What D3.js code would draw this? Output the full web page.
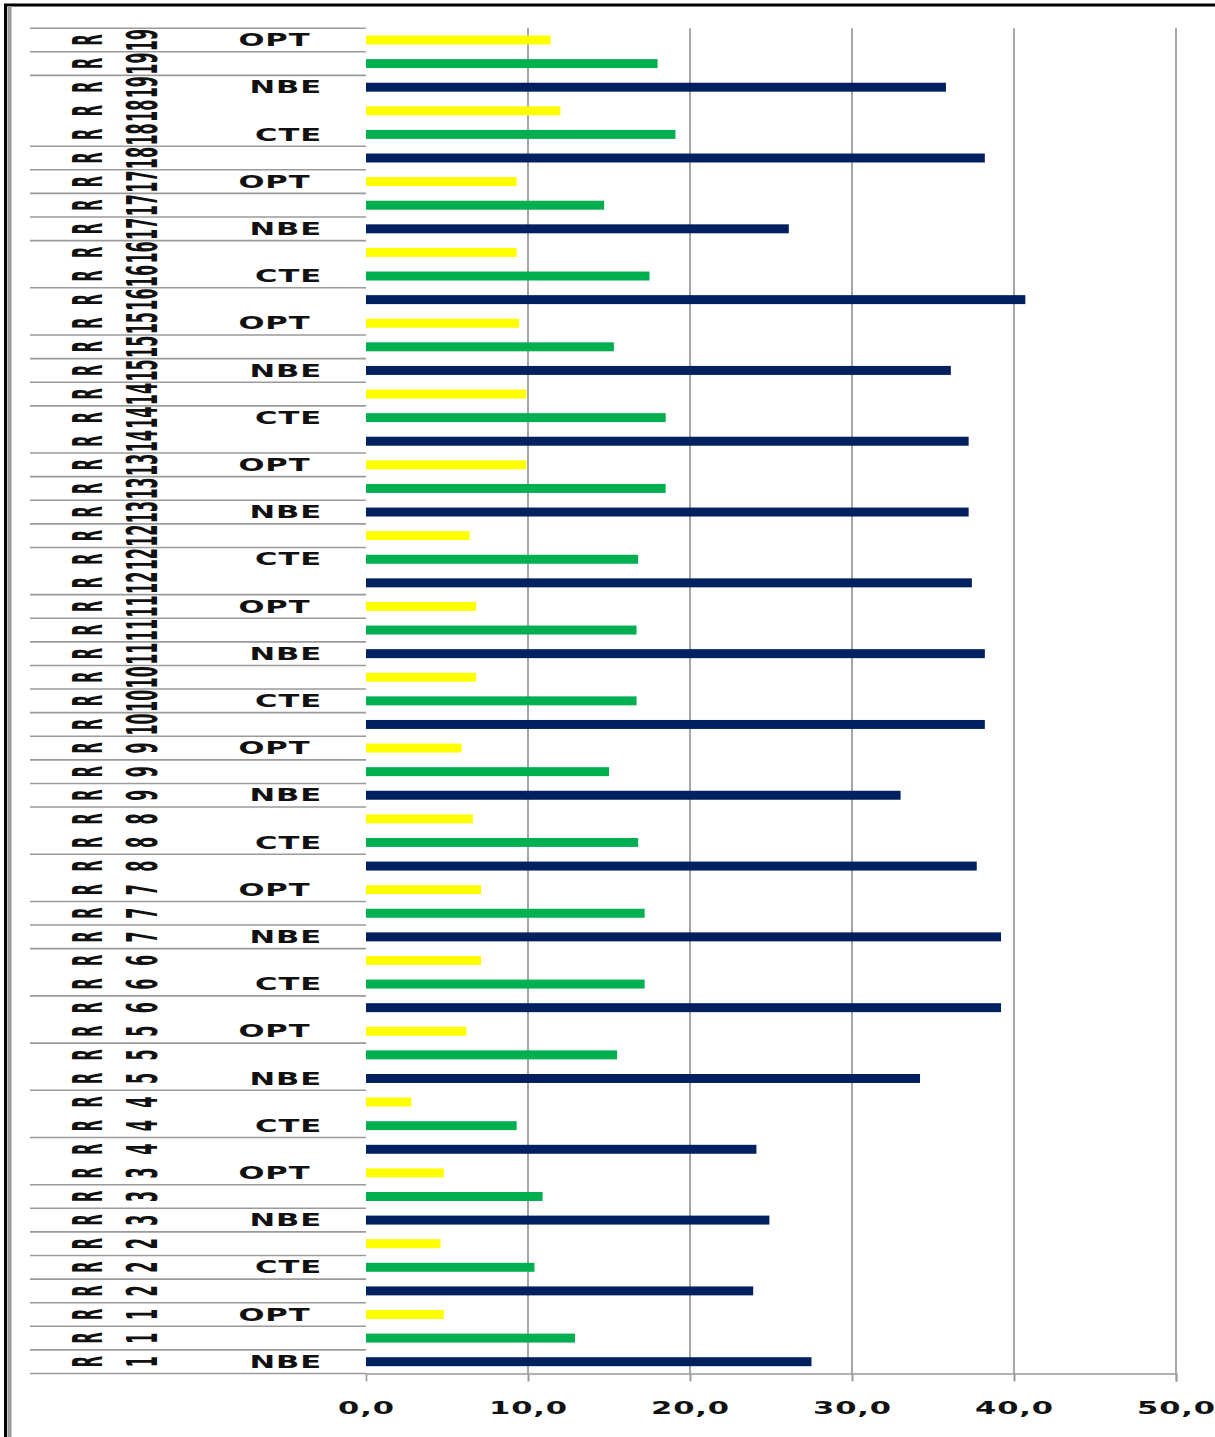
<!DOCTYPE html>
<html>
<head>
<meta charset="utf-8">
<script src="https://cdn.jsdelivr.net/npm/d3@7"></script>
<style>
  html, body { margin: 0; padding: 0; background: #fff; }
  svg { display: block; }
  text { font-family: "DejaVu Sans", Verdana, sans-serif; font-weight: bold; fill: #111; }
</style>
</head>
<body>
<svg id="chart" width="1215" height="1437"></svg>
<script>
// Regions R1..R19, each with three indicators
const groups = d3.range(1, 20);
const measures = ["NBE", "CTE", "OPT"];
const measureLabels = ["NBE", "CTE", "OPT "];

const nbe = [27.5, 23.9, 24.9, 24.1, 34.2, 39.2, 39.2, 37.7, 33.0, 38.2,
             38.2, 37.4, 37.2, 37.2, 36.1, 40.7, 26.1, 38.2, 35.8];
const cte = [12.9, 10.4, 10.9, 9.3, 15.5, 17.2, 17.2, 16.8, 15.0, 16.7,
             16.7, 16.8, 18.5, 18.5, 15.3, 17.5, 14.7, 19.1, 18.0];
const opt = [4.8, 4.6, 4.8, 2.8, 6.2, 7.1, 7.1, 6.6, 5.9, 6.8,
             6.8, 6.4, 9.9, 9.9, 9.45, 9.3, 9.3, 12.0, 11.4];

const xTicks = [0, 10, 20, 30, 40, 50];
const xTickLabels = ["0,0", "10,0", "20,0", "30,0", "40,0", "50,0"];

// category boundaries (between row b and b+1) that carry no separator rule
const ruleGaps = [8, 10, 12, 14, 16, 20, 22, 33, 39, 44, 46, 52, 53];

const colors = { NBE: "#002060", CTE: "#00B050", OPT: "#FFFF00" };
const seriesValues = { NBE: nbe, CTE: cte, OPT: opt };

// one row per (region, indicator), bottom row first
const rows = [];
groups.forEach((g, gi) => {
  measures.forEach((m, mi) => {
    rows.push({ id: rows.length, group: g, measure: m, label: measureLabels[mi],
                value: seriesValues[m][gi] });
  });
});

const svg = d3.select("#chart");

const plotTop = 28.2, plotBottom = 1373.5;
const x = d3.scaleLinear().domain([0, 50]).range([366, 1176]);
const y = d3.scaleBand()
  .domain(rows.map(d => d.id).reverse())
  .range([plotTop, plotBottom])
  .paddingInner(0.62)
  .paddingOuter(0.31);
const step = y.step();
const rowCenter = id => y(id) + y.bandwidth() / 2;

// horizontally widened lettering
const textSx = 1.8, textFs = 17, textLs = 0.5;

// frame
svg.append("line").attr("x1", 4).attr("x2", 1215).attr("y1", 5).attr("y2", 5)
  .attr("stroke", "#000").attr("stroke-width", 3);
svg.append("line").attr("x1", 5.5).attr("x2", 5.5).attr("y1", 4).attr("y2", 1437)
  .attr("stroke", "#000").attr("stroke-width", 3);
svg.append("line").attr("x1", 9.5).attr("x2", 9.5).attr("y1", 6).attr("y2", 1437)
  .attr("stroke", "#9a9a9a").attr("stroke-width", 4);

// vertical gridlines
svg.append("g").selectAll("line")
  .data(xTicks.filter(t => t > 0))
  .join("line")
  .attr("x1", d => x(d)).attr("x2", d => x(d))
  .attr("y1", plotTop).attr("y2", plotBottom)
  .attr("stroke", "#a6a6a6").attr("stroke-width", 2);

// category separator rules
const boundaries = d3.range(-1, rows.length).filter(b => !ruleGaps.includes(b));
svg.append("g").selectAll("line")
  .data(boundaries)
  .join("line")
  .attr("x1", 30).attr("x2", x(0))
  .attr("y1", b => plotBottom - (b + 1) * step)
  .attr("y2", b => plotBottom - (b + 1) * step)
  .attr("stroke", "#9a9a9a").attr("stroke-width", 1.6);

// value axis
const xAxis = d3.axisBottom(x).tickValues(xTicks).tickSize(8).tickFormat((d, i) => xTickLabels[i]);
const axisG = svg.append("g").attr("transform", `translate(0,${plotBottom})`).call(xAxis);
axisG.select(".domain").attr("stroke", "#9a9a9a").attr("stroke-width", 1.6);
axisG.selectAll(".tick line").attr("stroke", "#9a9a9a").attr("stroke-width", 2)
  .filter(d => d === 0).remove();
axisG.selectAll(".tick text").remove();
axisG.selectAll(".tick").append("g")
  .attr("transform", `translate(0,34) scale(${textSx},1)`)
  .append("text")
  .attr("text-anchor", "middle")
  .attr("font-size", textFs)
  .attr("letter-spacing", textLs)
  .attr("dy", "0.36em")
  .text((d, i) => xTickLabels[i]);

// bars
svg.append("g").selectAll("rect")
  .data(rows)
  .join("rect")
  .attr("x", x(0))
  .attr("y", d => y(d.id))
  .attr("width", d => x(d.value) - x(0))
  .attr("height", y.bandwidth())
  .attr("fill", d => colors[d.measure]);

// indicator labels (every second row)
svg.append("g").selectAll("g")
  .data(rows.filter(d => d.id % 2 === 0))
  .join("g")
  .attr("transform", d => `translate(322,${rowCenter(d.id)}) scale(${textSx},1)`)
  .append("text")
  .attr("text-anchor", "end")
  .attr("font-size", textFs)
  .attr("letter-spacing", textLs)
  .attr("dy", "0.36em")
  .style("white-space", "pre")
  .text(d => d.label);

// rotated region labels: prefix and number
const rotSx = 2.7;
function rotated(sel, cx, fs, txt) {
  sel.append("g").selectAll("g")
    .data(rows)
    .join("g")
    .attr("transform", d => `translate(${cx + 0.729 * fs * rotSx / 2},${rowCenter(d.id)}) scale(${rotSx},1) rotate(-90)`)
    .append("text")
    .attr("text-anchor", "middle")
    .attr("font-size", fs)
    .text(txt);
}
rotated(svg, 87, 15, () => "R");
rotated(svg, 141, 16, d => String(d.group));
</script>
</body>
</html>
